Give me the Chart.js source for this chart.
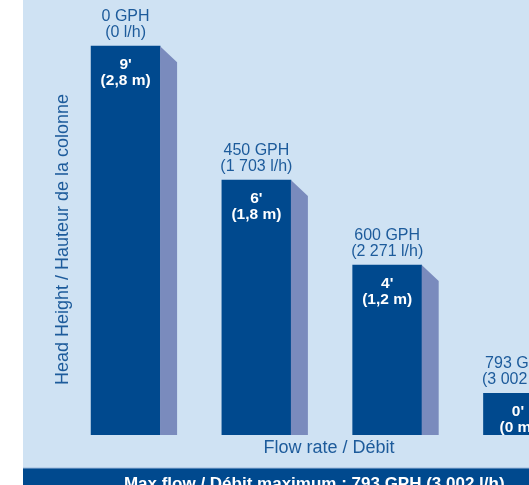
<!DOCTYPE html>
<html>
<head>
<meta charset="utf-8">
<script src="https://cdn.jsdelivr.net/npm/chart.js@4"></script>
<style>
  html, body { margin: 0; padding: 0; overflow: hidden; background: #ffffff; }
  body { width: 529px; height: 485px; }
  canvas { display: block; }
</style>
</head>
<body>
<canvas id="c" width="635" height="500"></canvas>
<script>
// ---- data ----
const flowGph   = ["0 GPH", "450 GPH", "600 GPH", "793 GPH"];
const flowLh    = ["(0 l/h)", "(1 703 l/h)", "(2 271 l/h)", "(3 002 l/h)"];
const headFeet  = ["9'", "6'", "4'", "0'"];
const headMeter = ["(2,8 m)", "(1,8 m)", "(1,2 m)", "(0 m)"];
const barHeights = [9.15, 6.0, 4.0, 0.98];
const positions  = [1, 2, 3, 4];
const yTitle = "Head Height / Hauteur de la colonne";
const xTitle = "Flow rate / Débit";
const bandText = "Max flow / Débit maximum : 793 GPH (3 002 l/h)";

const FRONT = "#00498e";
const SIDE = "#7a8bbd";
const BG = "#cfe2f3";
const TXT = "#1d5b9b";
const FONT = "'Liberation Sans', Arial, Helvetica, sans-serif";

const bgPlugin = {
  id: "bg",
  beforeDraw(chart) {
    const {ctx, width, height} = chart;
    ctx.save();
    ctx.fillStyle = "#ffffff";
    ctx.fillRect(0, 0, width, height);
    ctx.fillStyle = BG;
    ctx.fillRect(23, 0, width - 23, 468);
    ctx.fillStyle = FRONT;
    ctx.fillRect(23, 468, width - 23, height - 468);
    ctx.fillStyle = "#9db9db";
    ctx.fillRect(23, 467.5, width - 23, 1);
    ctx.restore();
  }
};

const barDeco = {
  id: "barDeco",
  afterDatasetsDraw(chart) {
    const {ctx} = chart;
    const meta = chart.getDatasetMeta(0);
    ctx.save();
    meta.data.forEach((el, i) => {
      const p = el.getProps(["x", "y", "base", "width"], true);
      const right = p.x + p.width / 2;
      // side face
      ctx.fillStyle = SIDE;
      ctx.beginPath();
      ctx.moveTo(right, p.y);
      ctx.lineTo(right + 17, p.y + 16);
      ctx.lineTo(right + 17, p.base);
      ctx.lineTo(right, p.base);
      ctx.closePath();
      ctx.fill();
      // labels above
      ctx.textAlign = "center";
      ctx.textBaseline = "alphabetic";
      ctx.fillStyle = TXT;
      ctx.font = "16px " + FONT;
      ctx.fillText(flowGph[i], p.x, p.y - 25);
      ctx.fillText(flowLh[i], p.x, p.y - 9.5);
      // labels inside
      ctx.fillStyle = "#ffffff";
      ctx.font = "bold 15.5px " + FONT;
      ctx.fillText(headFeet[i], p.x, p.y + 22.5);
      ctx.fillText(headMeter[i], p.x, p.y + 38.5);
    });
    ctx.restore();
  }
};

new Chart(document.getElementById("c"), {
  type: "bar",
  data: {
    datasets: [{
      data: positions.map((x, i) => ({x: x, y: barHeights[i]})),
      backgroundColor: FRONT,
      borderWidth: 0,
      barThickness: 69
    }]
  },
  options: {
    responsive: false,
    animation: false,
    devicePixelRatio: 1,
    layout: { padding: { left: 48.5, right: 55, top: 44, bottom: 0 } },
    plugins: {
      legend: { display: false },
      tooltip: { enabled: false },
      title: {
        display: true,
        position: "bottom",
        text: bandText,
        color: "#ffffff",
        font: { family: FONT, size: 17, weight: "bold", lineHeight: 1.2 },
        padding: { top: 4.9, bottom: 5.5 }
      }
    },
    scales: {
      x: {
        type: "linear",
        offset: false,
        min: 0.6369,
        max: 4.4741,
        ticks: { display: false },
        grid: { display: false, drawTicks: false, offset: false },
        border: { display: false },
        title: {
          display: true,
          text: xTitle,
          color: TXT,
          font: { family: FONT, size: 18, lineHeight: 1.2 },
          padding: { top: 2, bottom: 10.6 }
        }
      },
      y: {
        min: 0,
        max: 9.2,
        ticks: { display: false },
        grid: { display: false, drawTicks: false },
        border: { display: false },
        title: {
          display: true,
          text: yTitle,
          color: TXT,
          font: { family: FONT, size: 18, lineHeight: 1.2 },
          padding: { top: 4, bottom: 4 }
        }
      }
    }
  },
  plugins: [bgPlugin, barDeco]
});
</script>
</body>
</html>
